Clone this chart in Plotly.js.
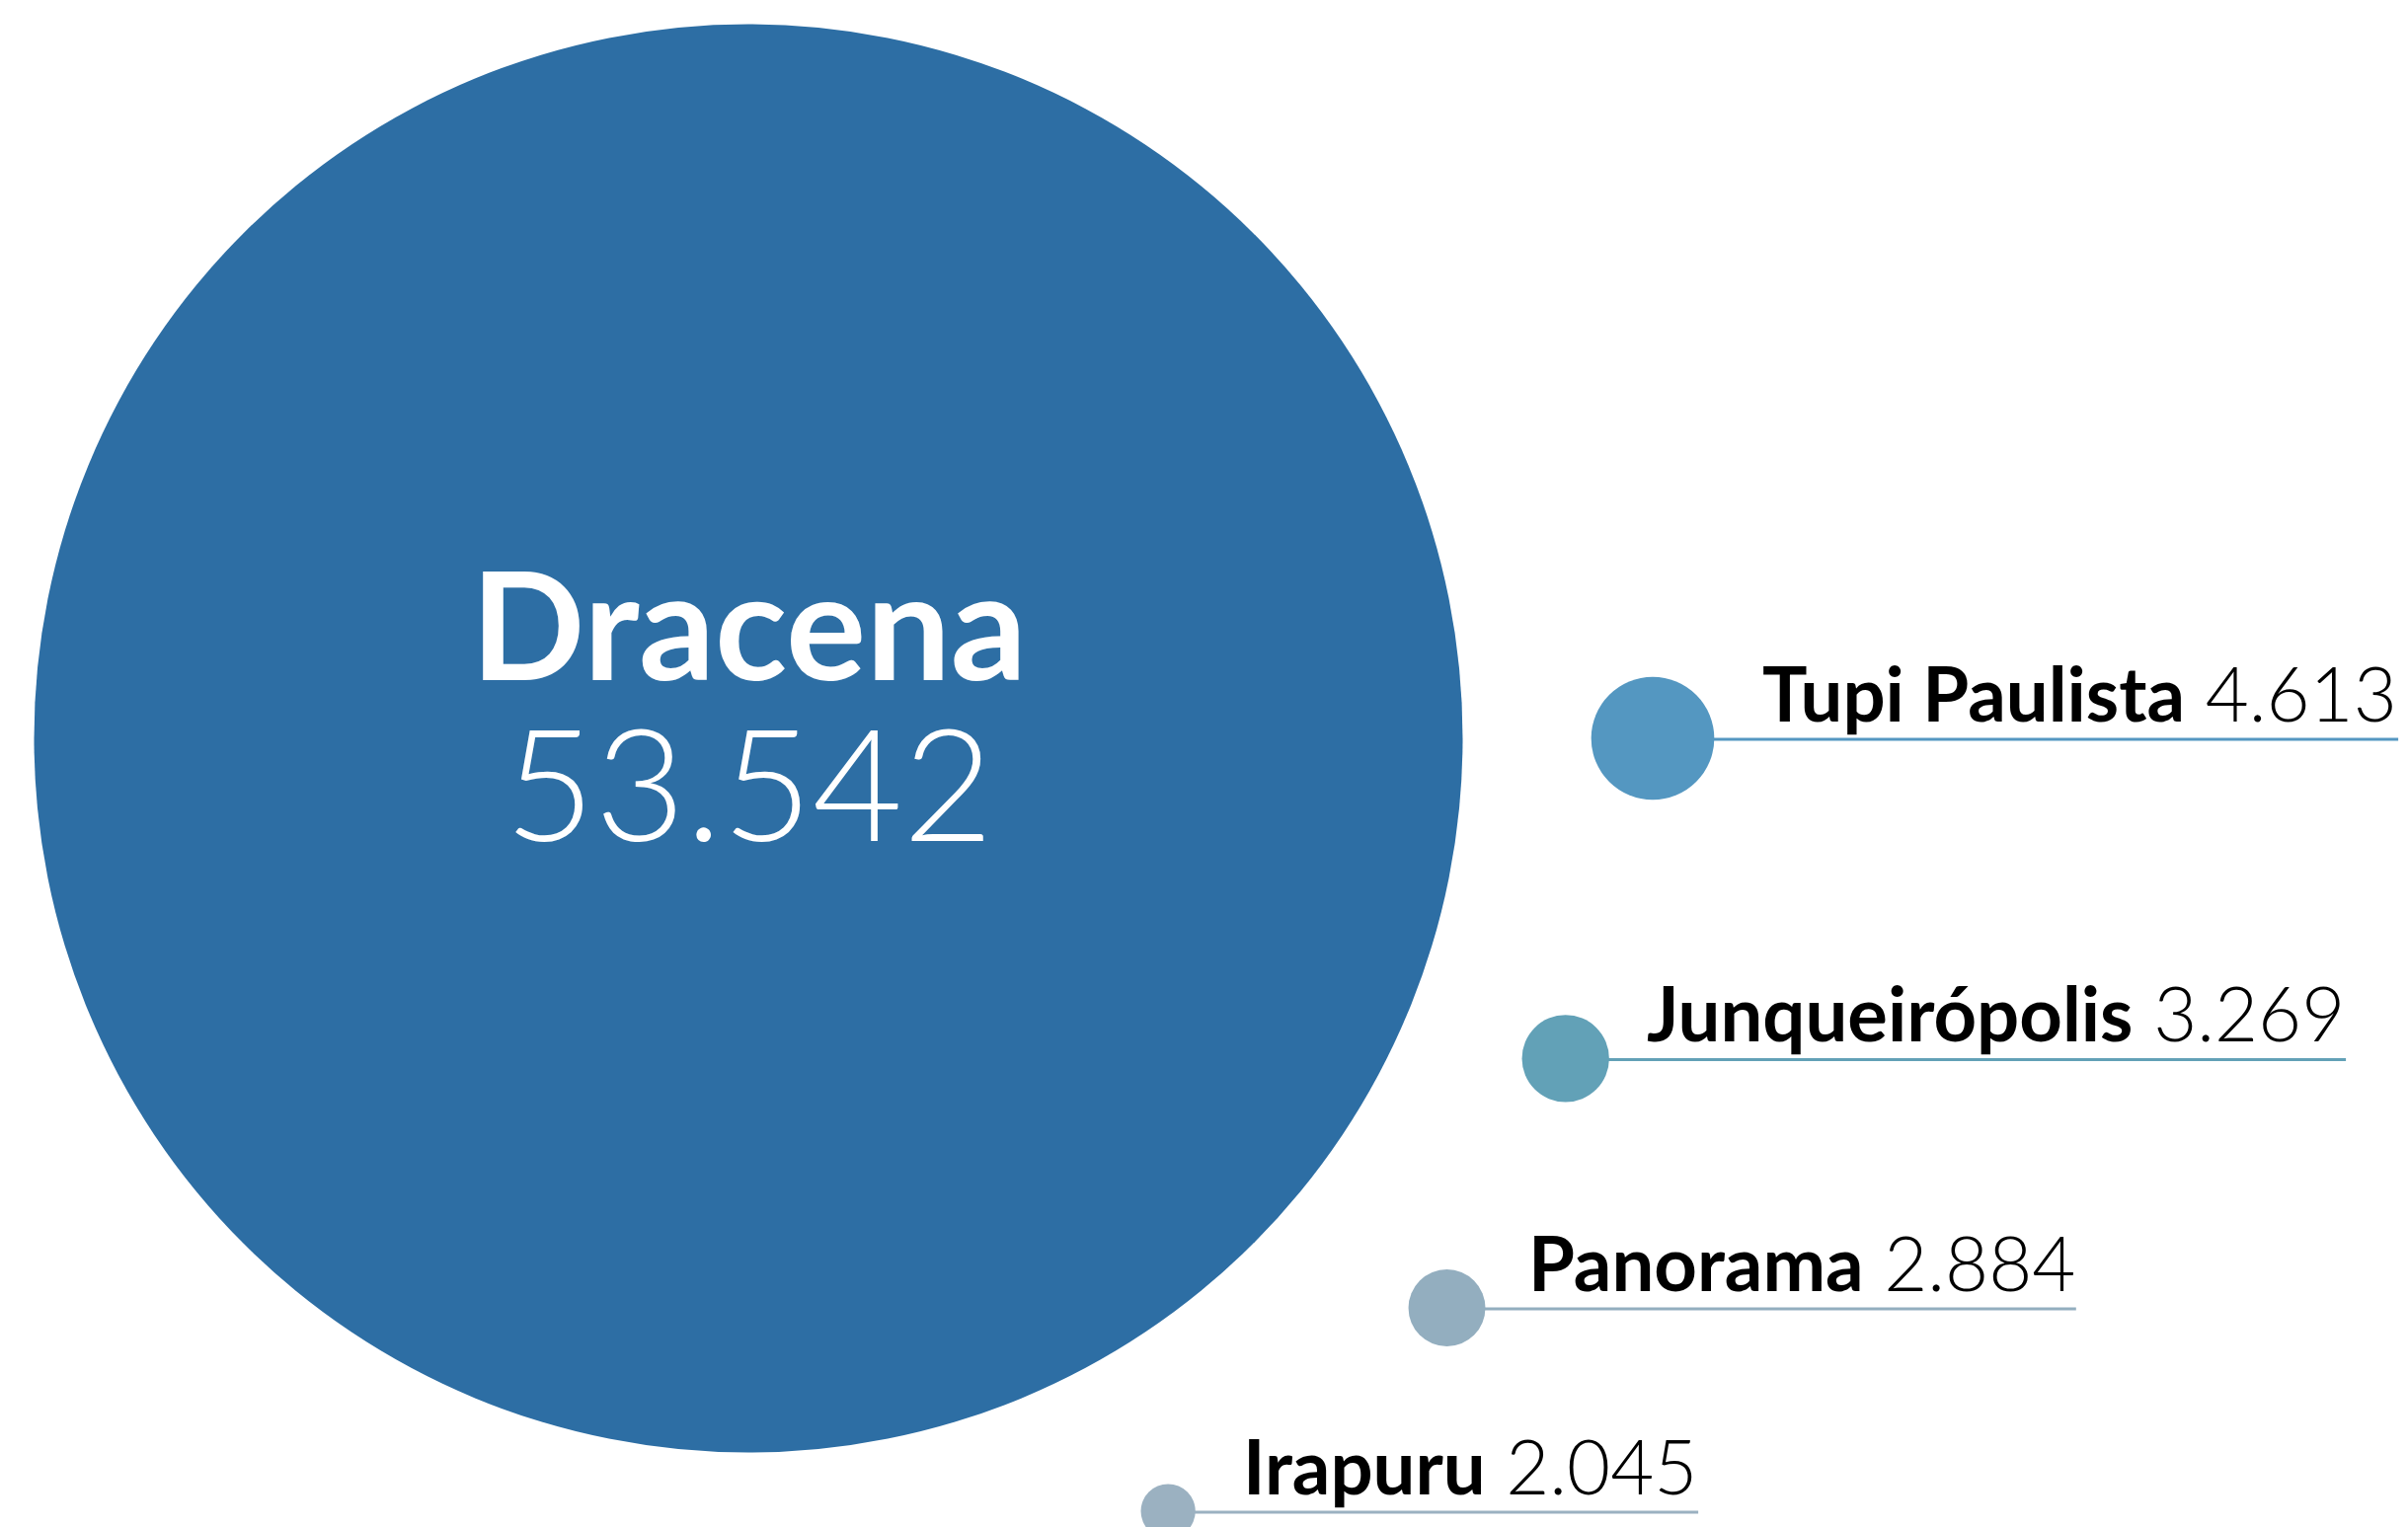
<!DOCTYPE html>
<html>
<head>
<meta charset="utf-8">
<script src="https://cdn.plot.ly/plotly-3.0.1.min.js"></script>
<style>
  html, body { margin: 0; padding: 0; background: #fff; }
  #chart { width: 2439px; height: 1547px; }
</style>
</head>
<body>
<div id="chart"></div>
<script>
"use strict"
// data
var towns = ['Dracena', 'Tupi Paulista', 'Junqueirópolis', 'Panorama', 'Irapuru'];
var population = [53542, 4613, 3269, 2884, 2045];

// styling / placement of the bubbles around the big one
var colors = ['rgb(45,110,164)', 'rgb(84,151,193)', 'rgb(98,161,183)', 'rgb(147,174,191)', 'rgb(155,177,193)'];
var angleDeg = [0, 0, 21.4, 39.2, 61.5];
var ringDist = [0, 916, 889, 913, 891];
var textGap = [0, 48, 37, 42, 47];

var W = 2439, H = 1547;
var centerX = 758, centerY = 748;
var bigDiameter = 1447;
var sizeref = population[0] / bigDiameter;   // px diameter = value / sizeref
var labelSize = 76;

function fmt(v) {
  return String(v).replace(/\B(?=(\d{3})+(?!\d))/g, '.');
}

var canvas = document.createElement('canvas');
var ctx = canvas.getContext('2d');
function textWidth(str, weight, size) {
  ctx.font = weight + ' ' + size + 'px Lato';
  return ctx.measureText(str).width;
}

var xs = [], ys = [];
for (var i = 0; i < towns.length; i++) {
  var a = angleDeg[i] * Math.PI / 180;
  xs.push(centerX + ringDist[i] * Math.cos(a));
  ys.push(centerY + ringDist[i] * Math.sin(a));
}

var trace = {
  x: xs,
  y: ys,
  type: 'scatter',
  mode: 'markers',
  hoverinfo: 'skip',
  marker: {
    size: population,
    sizemode: 'diameter',
    sizeref: sizeref,
    color: colors,
    opacity: 1,
    line: {width: 0}
  }
};

// big bubble label: name + value in one text block
var annotations = [
  {
    x: xs[0], y: ys[0], xref: 'x', yref: 'y',
    text: '<span style="font-size:152px;font-weight:700">' + towns[0] + '</span><br>' +
          '<span style="font-size:158px;font-weight:300">' + fmt(population[0]) + '</span>',
    showarrow: false, xanchor: 'center', yanchor: 'middle', yshift: 36,
    borderpad: 0,
    font: {family: 'Lato', size: 125, color: '#fff', weight: 300}
  }
];
var shapes = [];

for (var j = 1; j < towns.length; j++) {
  var r = population[j] / sizeref / 2;
  var tx = xs[j] + r + textGap[j];
  var w = textWidth(towns[j], 700, labelSize) + textWidth(' ' + fmt(population[j]), 300, labelSize);
  annotations.push({
    x: tx, y: ys[j], xref: 'x', yref: 'y',
    text: '<b>' + towns[j] + '</b> ' + fmt(population[j]),
    showarrow: false, xanchor: 'left', yanchor: 'bottom',
    borderpad: 0,
    font: {family: 'Lato', size: labelSize, color: '#000', weight: 300}
  });
  shapes.push({
    type: 'line', layer: 'below',
    xref: 'x', yref: 'y',
    x0: xs[j], x1: tx + w + 2,
    y0: ys[j] + 1, y1: ys[j] + 1,
    line: {color: colors[j], width: 3}
  });
}

var layout = {
  width: W,
  height: H,
  margin: {l: 0, r: 0, t: 0, b: 0, pad: 0},
  paper_bgcolor: '#fff',
  plot_bgcolor: '#fff',
  showlegend: false,
  xaxis: {range: [0, W], visible: false, fixedrange: true},
  yaxis: {range: [H, 0], visible: false, fixedrange: true},
  annotations: annotations,
  shapes: shapes
};

Plotly.newPlot('chart', [trace], layout, {displayModeBar: false, staticPlot: true});
</script>
</body>
</html>
